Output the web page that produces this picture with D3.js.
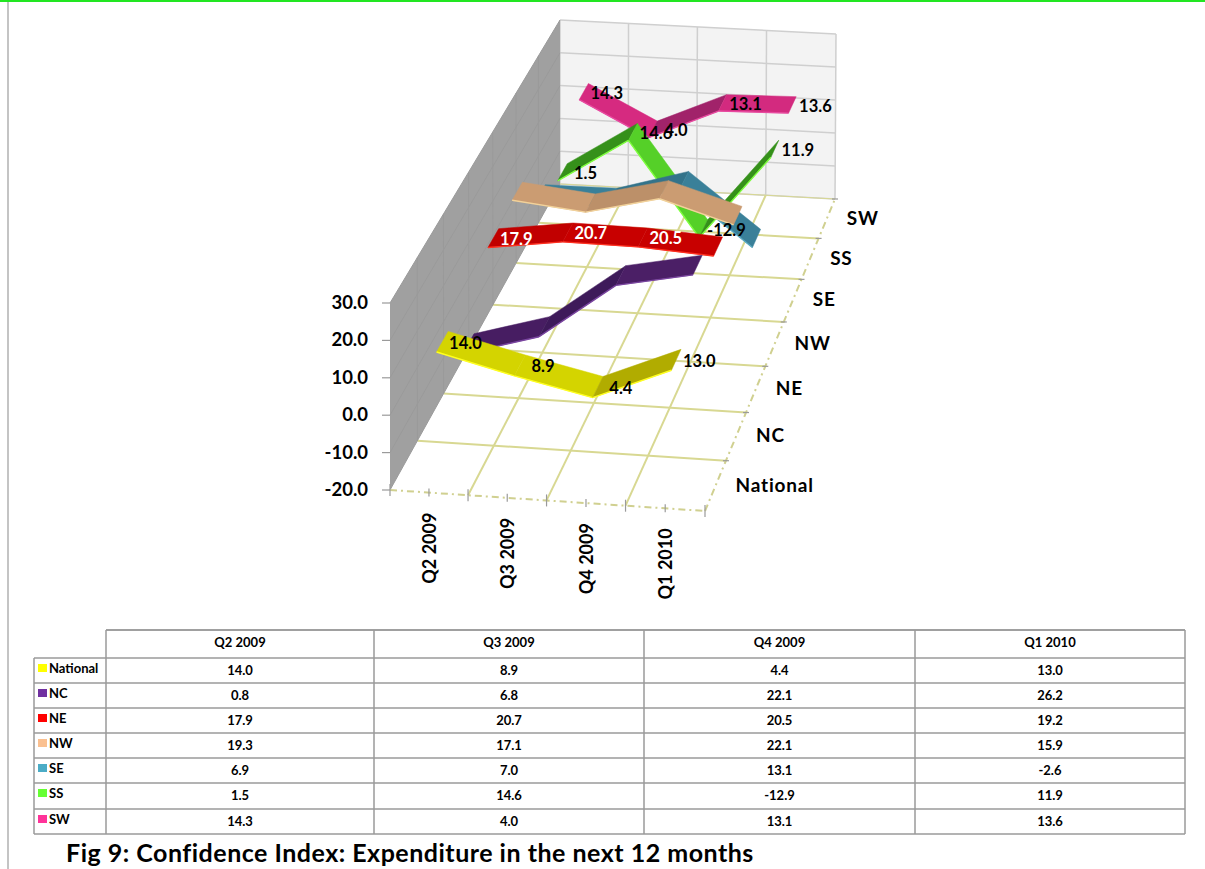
<!DOCTYPE html>
<html>
<head>
<meta charset="utf-8">
<script src="https://cdn.jsdelivr.net/npm/d3@7/dist/d3.min.js"></script>
<style>
  html, body { margin: 0; padding: 0; background: #fff; }
  svg { display: block; }
  text { font-family: Lato, "Open Sans", sans-serif; font-weight: 700; }
</style>
</head>
<body>
<svg id="chart" width="1205" height="869"></svg>
<script>
// Confidence index by region and quarter
const quarters = ["Q2 2009", "Q3 2009", "Q4 2009", "Q1 2010"];
const regions = ["National", "NC", "NE", "NW", "SE", "SS", "SW"];
const national = [14.0, 8.9, 4.4, 13.0];
const nc = [0.8, 6.8, 22.1, 26.2];
const ne = [17.9, 20.7, 20.5, 19.2];
const nw = [19.3, 17.1, 22.1, 15.9];
const se = [6.9, 7.0, 13.1, -2.6];
const ss = [1.5, 14.6, -12.9, 11.9];
const sw = [14.3, 4.0, 13.1, 13.6];
const valueTicks = [-20, -10, 0, 10, 20, 30];

const seriesValues = [national, nc, ne, nw, se, ss, sw];
const swatches = ["#ffff00", "#7030a0", "#ff0000", "#fac090", "#4bacc6", "#66ff33", "#ff3399"];
const lightFaces = ["#d4d400", "#54226f", "#c80000", "#cb9c72", "#3a8099", "#55d028", "#d62a80"];
const darkFaces = ["#aba600", "#3e1a5a", "#ae0000", "#ad8460", "#2e6a80", "#35901a", "#9c2268"];
const rimColours = ["#ffff20", "#7a45a0", "#ff3020", "#f2d29a", "#58a8c0", "#80ff40", "#e84aa0"];
const labelledPoints = [[0, 1, 2, 3], [], [0, 1, 2], [], [], [0, 1, 2, 3], [0, 1, 2, 3]];
const labelColours = ["#000", "#000", "#fff", "#000", "#000", "#000", "#000"];

const oneDecimal = d3.formatLocale({ decimal: ".", thousands: ",", grouping: [3], currency: ["", ""], minus: "-" }).format(".1f");

// Corners of the plot box: floor plane and the plane at the top of the value axis
const floorCorners = [[390, 490], [705, 511], [835, 199], [560, 184]];
const ceilingCorners = [[390, 303], [705, 322], [836, 34], [560, 20]];

// Homography from the unit square onto a quadrilateral
function squareToQuad(q) {
  const [[x0, y0], [x1, y1], [x2, y2], [x3, y3]] = q;
  const dx1 = x1 - x2, dx2 = x3 - x2, sx = x0 - x1 + x2 - x3;
  const dy1 = y1 - y2, dy2 = y3 - y2, sy = y0 - y1 + y2 - y3;
  const det = dx1 * dy2 - dx2 * dy1;
  const g = (sx * dy2 - dx2 * sy) / det;
  const h = (dx1 * sy - sx * dy1) / det;
  return (u, v) => {
    const w = g * u + h * v + 1;
    return [
      ((x1 - x0 + g * x1) * u + (x3 - x0 + h * x3) * v + x0) / w,
      ((y1 - y0 + g * y1) * u + (y3 - y0 + h * y3) * v + y0) / w
    ];
  };
}
const onFloor = squareToQuad(floorCorners);
const onCeiling = squareToQuad(ceilingCorners);

const uScale = d3.scaleLinear().domain([0, quarters.length]).range([0, 1]);
const vScale = d3.scaleLinear().domain([0, regions.length]).range([0, 1]);
const hScale = d3.scaleLinear().domain([-20, 30]).range([0, 1]);

// Quarter slot, region slot, value -> page position
function project(q, r, value) {
  const u = uScale(q), v = vScale(r), t = hScale(value);
  const a = onFloor(u, v), b = onCeiling(u, v);
  return [a[0] + (b[0] - a[0]) * t, a[1] + (b[1] - a[1]) * t];
}
const pathOf = d3.line();
const closed = pts => pathOf(pts) + "Z";

const svg = d3.select("#chart");

// Page furniture
svg.append("line").attr("x1", 0).attr("x2", 1205).attr("y1", 1).attr("y2", 1)
  .attr("stroke", "#22e622").attr("stroke-width", 2);
svg.append("line").attr("x1", 8).attr("x2", 8).attr("y1", 2).attr("y2", 869)
  .attr("stroke", "#b0b0b0").attr("stroke-width", 1.5);

const nQ = quarters.length, nR = regions.length;

// Back wall
const wallLow = valueTicks[0], wallHigh = valueTicks[valueTicks.length - 1];
svg.append("path").attr("fill", "#f3f3f3")
  .attr("d", closed([project(0, nR, wallLow), project(nQ, nR, wallLow), project(nQ, nR, wallHigh), project(0, nR, wallHigh)]));
const backGrid = svg.append("g").attr("stroke", "#cfcfcf").attr("stroke-width", 1.5).attr("fill", "none");
valueTicks.forEach(t => backGrid.append("path").attr("d", pathOf([project(0, nR, t), project(nQ, nR, t)])));
d3.range(0, nQ + 1).forEach(q => backGrid.append("path").attr("d", pathOf([project(q, nR, wallLow), project(q, nR, wallHigh)])));

// Floor grid
const floorGrid = svg.append("g").attr("stroke", "#d8d892").attr("stroke-width", 2).attr("fill", "none");
d3.range(1, nR).forEach(r => floorGrid.append("path").attr("d", pathOf([project(0, r, wallLow), project(nQ, r, wallLow)])));
d3.range(1, nQ).forEach(q => floorGrid.append("path").attr("d", pathOf([project(q, 0, wallLow), project(q, nR, wallLow)])));
floorGrid.append("path").attr("stroke-width", 1).attr("d", pathOf([project(0, nR, wallLow), project(nQ, nR, wallLow)]));

// Left wall
svg.append("path").attr("fill", "#a0a0a0")
  .attr("d", closed([project(0, 0, wallLow), project(0, nR, wallLow), project(0, nR, wallHigh), project(0, 0, wallHigh)]));
const sideGrid = svg.append("g").attr("stroke", "#9a9a9a").attr("stroke-width", 1).attr("fill", "none");
valueTicks.forEach(t => sideGrid.append("path").attr("d", pathOf([project(0, 0, t), project(0, nR, t)])));
d3.range(1, nR).forEach(r => sideGrid.append("path").attr("d", pathOf([project(0, r, wallLow), project(0, r, wallHigh)])));

// Dash-dot edges of the floor
const edges = svg.append("g").attr("stroke", "#d0d090").attr("stroke-width", 2)
  .attr("stroke-dasharray", "7 4 2 4").attr("fill", "none");
edges.append("path").attr("d", pathOf([project(0, 0, wallLow), project(nQ, 0, wallLow)]));
edges.append("path").attr("d", pathOf([project(nQ, 0, wallLow), project(nQ, nR, wallLow)]));

// Tick marks along each axis
const ticks = svg.append("g").attr("stroke", "#9a9a9a").attr("stroke-width", 1.2);
d3.range(0, nQ + 0.5, 0.5).forEach(q => {
  const [x, y] = project(q, 0, wallLow);
  const half = Number.isInteger(q) ? 6 : 4;
  ticks.append("line").attr("x1", x).attr("x2", x).attr("y1", y - half).attr("y2", y + half);
});
d3.range(1, nR + 1).forEach(r => {
  const [x, y] = project(nQ, r, wallLow);
  ticks.append("line").attr("x1", x - 3).attr("x2", x + 3).attr("y1", y).attr("y2", y);
});
valueTicks.forEach(t => {
  const [x, y] = project(0, 0, t);
  ticks.append("line").attr("x1", x - 8).attr("x2", x).attr("y1", y).attr("y2", y);
});

// Axis labels
valueTicks.forEach(t => {
  const [x, y] = project(0, 0, t);
  svg.append("text").attr("x", x - 22).attr("y", y + 6).attr("text-anchor", "end")
    .attr("font-size", 18.5).text(oneDecimal(t));
});
quarters.forEach((name, q) => {
  const [x, y] = project(q + 0.5, 0, wallLow);
  svg.append("text").attr("transform", `translate(${x + 7},${y + 20}) rotate(-90)`)
    .attr("text-anchor", "end").attr("font-size", 18).text(name);
});
regions.forEach((name, r) => {
  const [x, y] = project(nQ, r + 0.5, wallLow);
  svg.append("text").attr("x", x + 20).attr("y", y + 6).attr("font-size", 19)
    .attr("letter-spacing", 0.8).text(name);
});

// One ribbon per region, painted from the back of the box to the front;
// the steeper a segment climbs, the darker its face
const halfDepth = 0.22;
const riseShade = d3.scaleLinear().domain([0, 10]).range([0, 1]).clamp(true);
d3.range(nR - 1, -1, -1).forEach(r => {
  const vals = seriesValues[r];
  const g = svg.append("g");
  d3.pairs(d3.range(nQ)).forEach(([a, b]) => {
    const p0 = project(a + 0.5, r + 0.5 - halfDepth, vals[a]);
    const p1 = project(b + 0.5, r + 0.5 - halfDepth, vals[b]);
    const p2 = project(b + 0.5, r + 0.5 + halfDepth, vals[b]);
    const p3 = project(a + 0.5, r + 0.5 + halfDepth, vals[a]);
    const face = d3.interpolateRgb(lightFaces[r], darkFaces[r])(riseShade(vals[b] - vals[a]));
    g.append("path").attr("d", closed([p0, p1, p2, p3]))
      .attr("fill", face).attr("stroke", face).attr("stroke-width", 0.5);
    g.append("path").attr("d", pathOf([p0, p1])).attr("fill", "none")
      .attr("stroke", rimColours[r]).attr("stroke-width", 1.4);
  });
});

// Value labels sit on top of every ribbon
const labels = svg.append("g");
seriesValues.forEach((vals, r) => {
  labelledPoints[r].forEach(i => {
    const [x, y] = project(i + 0.5, r + 0.5, vals[i]);
    labels.append("text").attr("x", x + 23).attr("y", y + 7)
      .attr("text-anchor", "middle").attr("font-size", 16.5)
      .attr("fill", labelColours[r]).text(oneDecimal(vals[i]));
  });
});

// Data table
const colEdges = [106, 374, 644, 915, 1185];
const rowEdges = [658, 683, 708, 733, 758, 783, 809, 834];
const legendLeft = 34;
const tableTop = 630;
const rules = svg.append("g").attr("stroke", "#9a9a9a").attr("stroke-width", 1.5);
rowEdges.forEach(y => rules.append("line").attr("x1", legendLeft).attr("x2", colEdges[4]).attr("y1", y).attr("y2", y));
rules.append("line").attr("x1", colEdges[0]).attr("x2", colEdges[4]).attr("y1", tableTop).attr("y2", tableTop).attr("stroke", "#808080");
colEdges.forEach(x => rules.append("line").attr("x1", x).attr("x2", x).attr("y1", tableTop).attr("y2", rowEdges[7]));
rules.append("line").attr("x1", legendLeft).attr("x2", legendLeft).attr("y1", rowEdges[0]).attr("y2", rowEdges[7]);

quarters.forEach((name, q) => {
  svg.append("text").attr("x", (colEdges[q] + colEdges[q + 1]) / 2).attr("y", tableTop + 17)
    .attr("text-anchor", "middle").attr("font-size", 13).text(name);
});
regions.forEach((name, r) => {
  const top = rowEdges[r];
  svg.append("rect").attr("x", 38).attr("y", top + 6).attr("width", 9).attr("height", 8).attr("fill", swatches[r]);
  svg.append("text").attr("x", 49).attr("y", top + 15).attr("font-size", 13).text(name);
  seriesValues[r].forEach((v, q) => {
    svg.append("text").attr("x", (colEdges[q] + colEdges[q + 1]) / 2).attr("y", top + 17)
      .attr("text-anchor", "middle").attr("font-size", 13).text(oneDecimal(v));
  });
});

// Caption
svg.append("text").attr("x", 66).attr("y", 862).attr("font-size", 25).attr("letter-spacing", 0.5)
  .text("Fig 9: Confidence Index: Expenditure in the next 12 months");
</script>
</body>
</html>
